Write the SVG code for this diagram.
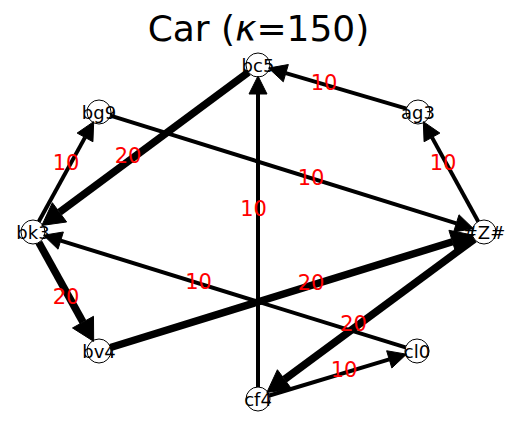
<svg xmlns="http://www.w3.org/2000/svg" width="515" height="426" viewBox="0 0 515 426">
<style>
.title{font-family:"DejaVu Sans",sans-serif;font-size:36px;fill:#000;text-anchor:middle}
.nl{font-family:"DejaVu Sans",sans-serif;font-size:18px;fill:#000;text-anchor:middle}
.el{font-family:"DejaVu Sans",sans-serif;font-size:21px;fill:#ff0000;text-anchor:middle}
.n{fill:#fff;stroke:#000;stroke-width:1}
.e1{stroke:#000;stroke-width:4;fill:none}
.e2{stroke:#000;stroke-width:7.5;fill:none}
.h{fill:#000;stroke:#000;stroke-width:1;stroke-linejoin:miter}
</style>
<rect width="515" height="426" fill="#fff"/>
<text class="title" x="258.5" y="41">Car (<tspan font-style="italic">κ</tspan>=150)</text>
<g id="node-circles">
<circle class="n" cx="258" cy="65" r="12"/>
<circle class="n" cx="418" cy="112" r="12"/>
<circle class="n" cx="484" cy="232" r="12"/>
<circle class="n" cx="417" cy="351" r="12"/>
<circle class="n" cx="258" cy="399" r="12"/>
<circle class="n" cx="99" cy="351" r="12"/>
<circle class="n" cx="33" cy="232" r="12"/>
<circle class="n" cx="99" cy="112" r="12"/>
</g>
<g id="edges">
<line class="e1" x1="406.49" y1="108.62" x2="285.82" y2="73.17"/>
<polygon class="h" points="268.55,68.10 288.36,64.53 283.28,81.81"/>
<line class="e2" x1="248.36" y1="72.15" x2="59.50" y2="212.33"/>
<polygon class="h" points="41.83,225.44 52.35,202.69 66.65,221.97"/>
<line class="e1" x1="110.46" y1="115.57" x2="456.32" y2="223.37"/>
<polygon class="h" points="473.50,228.73 453.64,231.96 459.00,214.78"/>
<line class="e1" x1="258" y1="387" x2="258" y2="94"/>
<polygon class="h" points="258,76 249,94 267,94"/>
<line class="e1" x1="478.22" y1="221.49" x2="431.97" y2="137.41"/>
<polygon class="h" points="423.30,121.64 439.86,133.07 424.08,141.75"/>
<line class="e1" x1="38.78" y1="221.49" x2="85.03" y2="137.41"/>
<polygon class="h" points="93.70,121.64 92.92,141.75 77.14,133.07"/>
<line class="e2" x1="38.82" y1="242.49" x2="83.00" y2="322.14"/>
<polygon class="h" points="93.67,341.38 72.51,327.96 93.49,316.32"/>
<line class="e2" x1="110.46" y1="347.46" x2="452.47" y2="241.75" stroke-width="8.5"/>
<polygon class="h" points="473.49,235.25 456.01,253.22 448.93,230.29"/>
<line class="e1" x1="405.54" y1="347.45" x2="60.70" y2="240.59"/>
<polygon class="h" points="43.51,235.26 63.36,231.99 58.04,249.19"/>
<line class="e2" x1="474.35" y1="239.13" x2="284.54" y2="379.39"/>
<polygon class="h" points="266.85,392.46 277.41,369.74 291.67,389.04"/>
<line class="e1" x1="269.49" y1="395.53" x2="389.24" y2="359.38"/>
<polygon class="h" points="406.47,354.18 391.84,368.00 386.64,350.76"/>
</g>
<g id="node-bc5"><text class="nl" x="258" y="71.5">bc5</text></g>
<g id="node-ag3"><text class="nl" x="418" y="118.5">ag3</text></g>
<g id="node-Z"><text class="nl" x="484" y="238.5">#Z#</text></g>
<g id="node-cl0"><text class="nl" x="417" y="357.5">cl0</text></g>
<g id="node-cf4"><text class="nl" x="258" y="405.5">cf4</text></g>
<g id="node-bv4"><text class="nl" x="99" y="357.5">bv4</text></g>
<g id="node-bk3"><text class="nl" x="33" y="238.5">bk3</text></g>
<g id="node-bg9"><text class="nl" x="99" y="118.5">bg9</text></g>
<g id="edge-labels">
<text class="el" x="324" y="90">10</text>
<text class="el" x="128" y="163">20</text>
<text class="el" x="311" y="184.5">10</text>
<text class="el" x="253.5" y="216">10</text>
<text class="el" x="443" y="169.5">10</text>
<text class="el" x="66" y="169.5">10</text>
<text class="el" x="66" y="303.5">20</text>
<text class="el" x="311" y="289.5">20</text>
<text class="el" x="198.5" y="289">10</text>
<text class="el" x="353.5" y="330.5">20</text>
<text class="el" x="344" y="377">10</text>
</g>
</svg>
